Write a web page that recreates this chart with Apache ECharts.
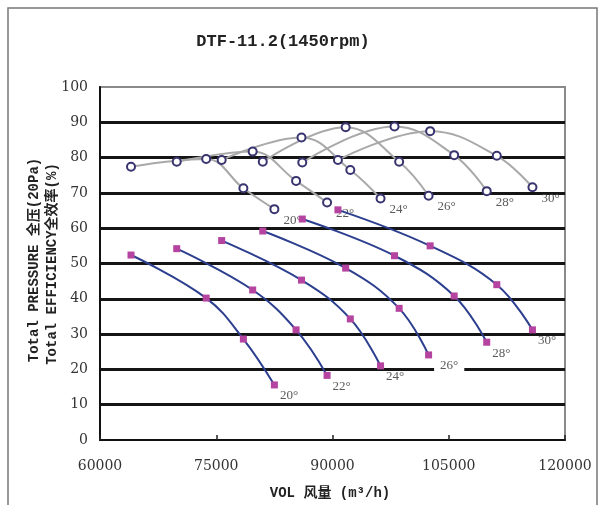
<!DOCTYPE html>
<html>
<head>
<meta charset="utf-8">
<script src="https://cdn.jsdelivr.net/npm/echarts@6/dist/echarts.min.js"></script>
<style>html,body{margin:0;padding:0;background:#fff}#c{width:600px;height:505px}</style>
</head>
<body>
<div id="c"></div>
<script>
// Blade angles
const angles = ['20°', '22°', '24°', '26°', '28°', '30°'];
// Air volume (m³/h) of the four test points per angle
const vol20 = [64000, 73700, 78500, 82500];
const vol22 = [69900, 79700, 85300, 89300];
const vol24 = [75700, 86000, 92300, 96200];
const vol26 = [81000, 91700, 98600, 102400];
const vol28 = [86100, 98000, 105700, 109900];
const vol30 = [90700, 102600, 111200, 115800];
// Total pressure (x20 Pa)
const pres20 = [52.4, 40.2, 28.6, 15.6];
const pres22 = [54.2, 42.5, 31.2, 18.3];
const pres24 = [56.5, 45.3, 34.3, 21.0];
const pres26 = [59.2, 48.7, 37.3, 24.1];
const pres28 = [62.6, 52.2, 40.8, 27.7];
const pres30 = [65.2, 55.0, 44.0, 31.2];
// Total efficiency (%)
const eff20 = [77.4, 79.6, 71.3, 65.4];
const eff22 = [78.8, 81.7, 73.4, 67.3];
const eff24 = [79.3, 85.7, 76.5, 68.4];
const eff26 = [78.8, 88.6, 78.8, 69.2];
const eff28 = [78.6, 88.8, 80.7, 70.5];
const eff30 = [79.3, 87.5, 80.5, 71.6];
// Axis ticks
const xTicks = [60000, 75000, 90000, 105000, 120000];
const yTicks = [0, 10, 20, 30, 40, 50, 60, 70, 80, 90, 100];

const vols = [vol20, vol22, vol24, vol26, vol28, vol30];
const pres = [pres20, pres22, pres24, pres26, pres28, pres30];
const effs = [eff20, eff22, eff24, eff26, eff28, eff30];

const labelFont = { color: '#5a5a5a', fontFamily: 'Liberation Serif', fontSize: 13 };

function buildData(xs, ys, name, labelExtra) {
  return xs.map((x, i) => {
    const item = { value: [x, ys[i]] };
    if (i === xs.length - 1) {
      item.label = Object.assign({ show: true, formatter: name, position: 'right', distance: 2, offset: [0, 11] }, labelFont, labelExtra || {});
    }
    return item;
  });
}

const series = [];
angles.forEach((a, k) => {
  series.push({
    type: 'line', name: 'eff' + a, smooth: 0.4, z: 3,
    symbol: 'circle', symbolSize: 8,
    lineStyle: { color: '#a9a9a9', width: 2 },
    itemStyle: { color: '#fff', borderColor: '#38346f', borderWidth: 2 },
    data: buildData(vols[k], effs[k], a, { distance: 4 })
  });
});
angles.forEach((a, k) => {
  series.push({
    type: 'line', name: 'pres' + a, smooth: 0.4, z: 4,
    symbol: 'rect', symbolSize: 7,
    lineStyle: { color: '#2c3e8e', width: 2 },
    itemStyle: { color: '#b4449f' },
    data: buildData(vols[k], pres[k], a, a === '26°' ? { backgroundColor: '#fff', padding: [2, 6] } : {})
  });
});

const chart = echarts.init(document.getElementById('c'), null, { renderer: 'canvas' });
chart.setOption({
  backgroundColor: '#fff',
  animation: false,
  grid: { left: 100, right: 35, top: 87, bottom: 65, show: true, borderColor: '#8a8a8a', borderWidth: 2 },
  xAxis: {
    type: 'value', min: xTicks[0], max: xTicks[xTicks.length - 1], interval: xTicks[1] - xTicks[0],
    axisLine: { lineStyle: { color: '#111', width: 2 } },
    axisTick: { show: true, inside: true, length: 5, lineStyle: { color: '#222', width: 1.5 } },
    axisLabel: { color: '#333', fontFamily: 'DejaVu Serif', fontSize: 14, margin: 19, formatter: v => String(v) },
    splitLine: { show: false }
  },
  yAxis: {
    type: 'value', min: yTicks[0], max: yTicks[yTicks.length - 1], interval: yTicks[1] - yTicks[0],
    axisLine: { show: true, lineStyle: { color: '#111', width: 2 } },
    axisTick: { show: false },
    axisLabel: { color: '#333', fontFamily: 'DejaVu Serif', fontSize: 14, margin: 12, formatter: v => String(v) },
    splitLine: { show: true, showMinLine: false, showMaxLine: false, lineStyle: { color: '#151515', width: 3 } }
  },
  series: series,
  graphic: [
    { type: 'rect', silent: true, z: -1, shape: { x: 8, y: 8, width: 589, height: 510 }, style: { fill: 'none', stroke: '#777', lineWidth: 1.5 } },
    { type: 'text', x: 283, y: 42, style: { text: 'DTF-11.2(1450rpm)', fill: '#222', font: 'bold 17px "Liberation Mono"', textAlign: 'center', textVerticalAlign: 'middle' } },
    { type: 'text', x: 330, y: 493, style: { text: 'VOL 风量 (m³/h)', fill: '#222', font: 'bold 14px "Liberation Mono", "Noto Sans CJK SC"', textAlign: 'center', textVerticalAlign: 'middle' } },
    { type: 'text', x: 34, y: 260, rotation: Math.PI / 2, style: { text: 'Total PRESSURE 全压(20Pa)', fill: '#222', font: 'bold 14px "Liberation Mono", "Noto Sans CJK SC"', textAlign: 'center', textVerticalAlign: 'middle' } },
    { type: 'text', x: 52, y: 264, rotation: Math.PI / 2, style: { text: 'Total EFFICIENCY全效率(%)', fill: '#222', font: 'bold 14px "Liberation Mono", "Noto Sans CJK SC"', textAlign: 'center', textVerticalAlign: 'middle' } }
  ]
});
</script>
</body>
</html>
